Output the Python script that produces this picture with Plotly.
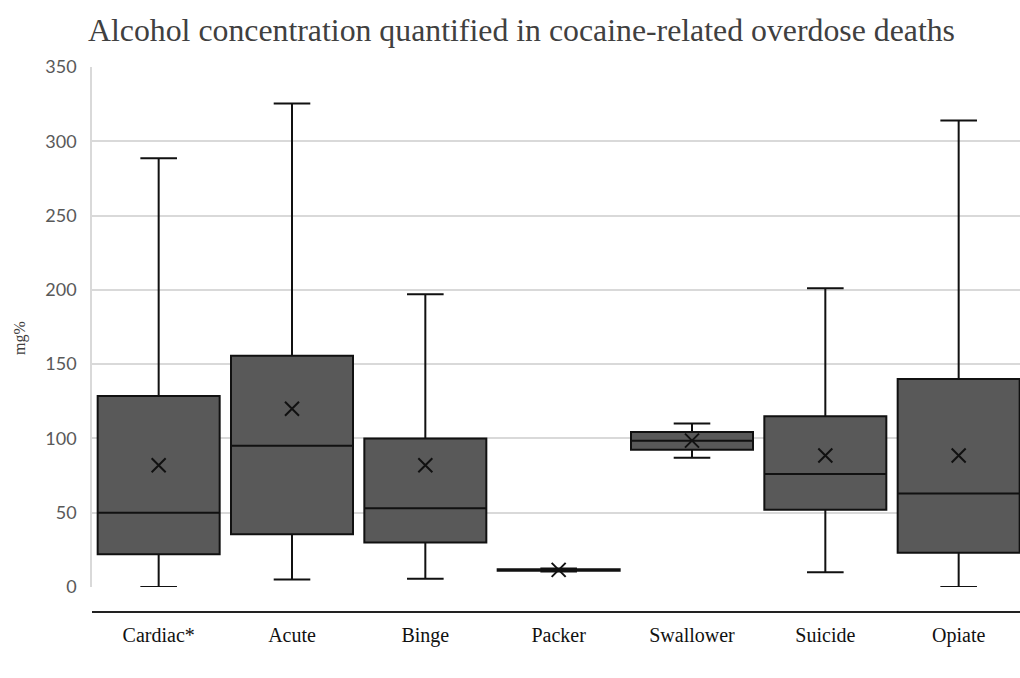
import plotly.graph_objects as go

categories = ["Cardiac*", "Acute", "Binge", "Packer", "Swallower", "Suicide", "Opiate"]
lower_whisker = [0, 5, 5.6, 10.5, 87, 10, 0]
q1_values = [22, 35.5, 30, 11, 92.4, 52, 23]
median_values = [50, 95, 53, 11.5, 98.5, 76, 63]
q3_values = [128.6, 155.7, 100, 12, 104.3, 115, 140]
upper_whisker = [288.5, 325.5, 197, 12.5, 110, 201, 314]
mean_values = [82, 120, 82, 11.5, 98.5, 88.5, 88.5]

y_ticks = [0, 50, 100, 150, 200, 250, 300, 350]

W, H = 1020, 678

fig = go.Figure()
fig.add_trace(go.Box(
    x=categories,
    q1=q1_values,
    median=median_values,
    q3=q3_values,
    lowerfence=lower_whisker,
    upperfence=upper_whisker,
    fillcolor="#595959",
    line=dict(color="#111111", width=2),
    whiskerwidth=0.3,
    boxpoints=False,
    showlegend=False,
    hoverinfo="skip",
))
fig.add_trace(go.Scatter(
    x=categories,
    y=mean_values,
    mode="markers",
    marker=dict(symbol="x-thin", size=14, line=dict(color="#111111", width=2)),
    showlegend=False,
    hoverinfo="skip",
))

plot_h = 612 - 67

fig.update_layout(
    width=W,
    height=H,
    margin=dict(l=92, r=0, t=67, b=H - 612, autoexpand=False),
    paper_bgcolor="white",
    plot_bgcolor="white",
    boxgap=0.085,
    boxgroupgap=0,
    title=dict(
        text="Alcohol concentration quantified in cocaine-related overdose deaths",
        font=dict(family="Liberation Serif", size=31.8, color="#404040"),
        xref="container", x=88 / W, xanchor="left",
        yref="container", y=1 - 30 / H, yanchor="middle",
    ),
    xaxis=dict(
        range=[-0.5, 6.46],
        anchor="free", position=0,
        showline=True, linecolor="#222222", linewidth=2,
        showgrid=False, ticks="",
        tickfont=dict(family="Liberation Serif", size=20, color="#111111"),
        ticklabelstandoff=5,
    ),
    yaxis=dict(
        domain=[(612 - 587) / plot_h, 1],
        range=[0, 350],
        tickvals=y_ticks,
        showgrid=True, gridcolor="#d9d9d9", gridwidth=1.5,
        showline=True, linecolor="#d9d9d9", linewidth=1.5,
        zeroline=False, ticks="",
        tickfont=dict(family="Lato", size=18, color="#595959"),
        ticklabelstandoff=10,
    ),
    annotations=[dict(
        text="mg%", textangle=-90,
        xref="paper", x=(20 - 92) / 928, xanchor="center",
        yref="paper", y=(612 - 338) / plot_h, yanchor="middle",
        showarrow=False,
        font=dict(family="Liberation Serif", size=16, color="#404040"),
    )],
)

fig.write_html(
    "out.html",
    config={"displayModeBar": False},
    post_script="document.body.style.margin='0';document.body.style.overflow='hidden';",
)
